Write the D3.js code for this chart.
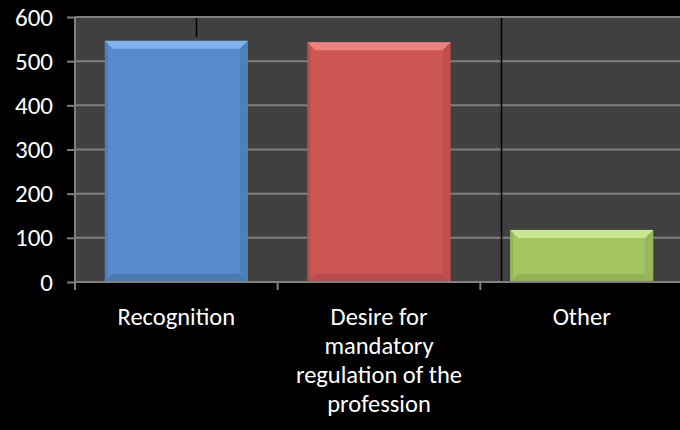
<!DOCTYPE html>
<html><head><meta charset="utf-8">
<script src="https://cdn.jsdelivr.net/npm/d3@7/dist/d3.min.js"></script>
<style>html,body{margin:0;padding:0;background:#000;}svg{display:block;}</style>
</head><body>
<svg id="c" width="680" height="430"></svg>
<script>
const categories = ["Recognition", "Desire for mandatory regulation of the profession", "Other"];
const labelLines = [["Recognition"], ["Desire for", "mandatory", "regulation of the", "profession"], ["Other"]];
const values = [546, 543, 118];
const yTicks = [0, 100, 200, 300, 400, 500, 600];
const colors = ["#568ACA", "#CD5654", "#A3C663"];
const lightColors = ["#8DBBF3", "#F08E8B", "#D2EE9B"];
const darkColors = ["#45739F", "#A94644", "#86A550"];

(function () {
const svg = d3.select("#c");
const W = 680, H = 430;
const pLeft = 75, pRight = 683, pTop = 17, pBottom = 282;
const font = "Carlito, Calibri, 'Open Sans', sans-serif";
const fs = 25;
const fsx = 24.5;
const lineGap = 29;

const x = d3.scaleBand().domain(categories).range([pLeft, pRight]).paddingInner(0.294).paddingOuter(0.147);
const y = d3.scaleLinear().domain([0, 600]).range([pBottom, pTop]);

svg.append("rect").attr("width", W).attr("height", H).attr("fill", "#000");
svg.append("rect").attr("x", pLeft).attr("y", pTop).attr("width", W - pLeft).attr("height", pBottom - pTop).attr("fill", "#404040");

svg.append("g").selectAll("line").data(yTicks.filter(d => d > 0)).join("line")
  .attr("x1", pLeft).attr("x2", W).attr("y1", d => y(d)).attr("y2", d => y(d))
  .attr("stroke", "#7f7f7f").attr("stroke-width", 2);

svg.append("line").attr("x1", 196.5).attr("x2", 196.5).attr("y1", pTop + 1).attr("y2", 37).attr("stroke", "#000").attr("stroke-width", 1.5);
svg.append("line").attr("x1", 501.5).attr("x2", 501.5).attr("y1", pTop + 1).attr("y2", pBottom).attr("stroke", "#000").attr("stroke-width", 1.5);

const bev = 8;
const g = svg.append("g");
categories.forEach((c, i) => {
  const x0 = x(c), x1 = x(c) + x.bandwidth();
  const y0 = y(values[i]), y1 = y(0);
  const bg = g.append("g");
  bg.append("rect").attr("x", x0).attr("y", y0).attr("width", x1 - x0).attr("height", y1 - y0).attr("fill", colors[i]);
  bg.append("path").attr("d", `M${x0},${y0}L${x1},${y0}L${x1 - bev},${y0 + bev}L${x0 + bev},${y0 + bev}Z`).attr("fill", lightColors[i]).attr("opacity", 0.8);
  bg.append("path").attr("d", `M${x0},${y1}L${x1},${y1}L${x1 - bev},${y1 - bev}L${x0 + bev},${y1 - bev}Z`).attr("fill", darkColors[i]).attr("opacity", 0.6);
  bg.append("path").attr("d", `M${x0},${y0}L${x0 + 3},${y0 + 3}L${x0 + 3},${y1 - 3}L${x0},${y1}Z`).attr("fill", darkColors[i]).attr("opacity", 0.5);
  bg.append("path").attr("d", `M${x1},${y0}L${x1 - bev},${y0 + bev}L${x1 - bev},${y1 - bev}L${x1},${y1}Z`).attr("fill", darkColors[i]).attr("opacity", 0.4);
});

const yAxis = d3.axisLeft(y).tickValues(yTicks).tickSize(8).tickPadding(14);
const ya = svg.append("g").attr("transform", `translate(${pLeft},0)`).call(yAxis);
ya.select(".domain").attr("stroke", "#808080").attr("stroke-width", 2).attr("d", `M0,${pTop}V${pBottom}`);
ya.selectAll(".tick line").attr("stroke", "#808080").attr("stroke-width", 2);
ya.selectAll(".tick text").attr("fill", "#fff").attr("font-size", fs).attr("font-family", font);

svg.append("line").attr("x1", pLeft).attr("x2", W).attr("y1", pBottom).attr("y2", pBottom).attr("stroke", "#808080").attr("stroke-width", 2);
const step = x.step();
const bounds = d3.range(categories.length).map(i => pLeft + i * step);
svg.append("g").selectAll("line").data(bounds).join("line")
  .attr("x1", d => d).attr("x2", d => d).attr("y1", pBottom).attr("y2", pBottom + 8)
  .attr("stroke", "#808080").attr("stroke-width", 2);

const lg = svg.append("g").attr("font-family", font).attr("font-size", fsx).attr("fill", "#fff").attr("text-anchor", "middle");
categories.forEach((c, i) => {
  const cx = x(c) + x.bandwidth() / 2;
  labelLines[i].forEach((ln, j) => lg.append("text").attr("x", cx).attr("y", 325 + j * lineGap).text(ln));
});
})();
</script>
</body></html>
